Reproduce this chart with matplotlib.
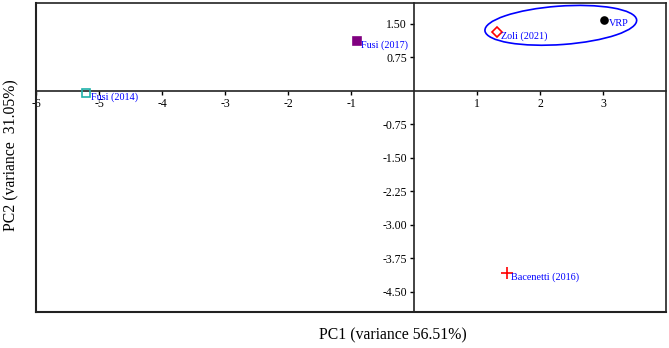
import matplotlib.pyplot as plt
from matplotlib.patches import Ellipse

names = ['VRP', 'Zoli (2021)', 'Fusi (2017)', 'Fusi (2014)', 'Bacenetti (2016)']
pc1 = [3.02, 1.32, -0.90, -5.20, 1.48]
pc2 = [1.60, 1.32, 1.12, -0.04, -4.07]
markers = ['o', 'D', 's', 's', '+']
face = ['black', 'none', 'purple', 'none', 'red']
edge = ['black', 'red', 'purple', 'lightseagreen', 'red']
sizes = [5, 5, 6, 5.5, 8]

xticks = [-6, -5, -4, -3, -2, -1, 1, 2, 3]
yticks = [1.50, 0.75, -0.75, -1.50, -2.25, -3.00, -3.75, -4.50]

plt.rcParams['font.family'] = ['Liberation Serif', 'DejaVu Serif']

fig = plt.figure(figsize=(6.69, 3.48), dpi=100)
ax = fig.add_axes([36/669, 36/348, 630/669, 309/348])

for i in range(len(names)):
    ax.plot(pc1[i], pc2[i], marker=markers[i], markersize=sizes[i],
            markerfacecolor=face[i], markeredgecolor=edge[i],
            markeredgewidth=1.2, linestyle='none', zorder=3)
    ax.annotate(names[i], (pc1[i], pc2[i]), xytext=(3, -3),
                textcoords='offset points', color='blue', fontsize=7.3,
                va='center', ha='left')

ax.add_patch(Ellipse((2.33, 1.47), 2.42, 0.86, angle=6, fill=False,
                     edgecolor='blue', linewidth=1.2))

ax.set_xlim(-6, 4)
ax.set_ylim(-4.95, 1.97)

ax.spines['left'].set_position(('data', 0))
ax.spines['bottom'].set_position(('data', 0))
for s in ax.spines.values():
    s.set_linewidth(1.2)
    s.set_color('#222222')
# outer frame
ax.plot([0, 0], [0, 1], transform=ax.transAxes, color='#222222', lw=1.5, clip_on=False)
ax.plot([0, 1], [0, 0], transform=ax.transAxes, color='#222222', lw=1.5, clip_on=False)

ax.set_xticks(xticks)
ax.set_xticklabels([str(t) for t in xticks])
ax.set_yticks(yticks)
ax.set_yticklabels(['%.2f' % t for t in yticks])
ax.tick_params(axis='both', labelsize=8.5, length=3, width=1, direction='out', pad=2)

fig.text(393/669, 13/348, 'PC1 (variance 56.51%)', ha='center', va='center', fontsize=11.3)
fig.text(11/669, 193/348, 'PC2 (variance  31.05%)', ha='center', va='center',
         rotation=90, fontsize=11.3)

fig.savefig('out.png', dpi=100)
